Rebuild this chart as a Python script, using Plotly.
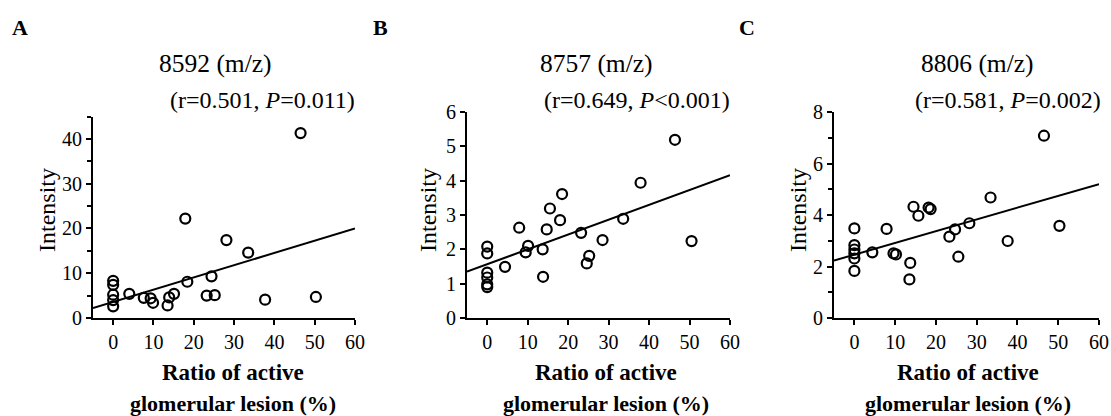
import plotly.graph_objects as go

W, H = 1111, 416
FONT = "Liberation Serif"

# ---- data ----
a_x = [0, 0, 0, 0, 0, 4.0, 7.6, 9.3, 9.9, 13.5, 13.9, 15.1, 17.9, 18.4, 23.2, 24.4, 25.2, 28.1, 33.5, 37.7, 46.5, 50.3]
a_y = [8.3, 7.4, 5.2, 4.0, 2.6, 5.4, 4.5, 4.4, 3.4, 2.8, 4.6, 5.4, 22.2, 8.1, 5.0, 9.3, 5.1, 17.4, 14.6, 4.1, 41.3, 4.7]

b_x = [0, 0, 0, 0, 0, 0, 4.4, 7.9, 9.5, 10.1, 13.7, 13.8, 14.7, 15.5, 18.0, 18.5, 23.2, 24.6, 25.2, 28.5, 33.6, 37.9, 46.4, 50.5]
b_y = [2.08, 1.88, 1.32, 1.18, 0.98, 0.90, 1.49, 2.63, 1.91, 2.10, 2.00, 1.20, 2.58, 3.19, 2.85, 3.61, 2.48, 1.59, 1.81, 2.27, 2.89, 3.94, 5.19, 2.24]

c_x = [0, 0, 0, 0, 0, 0, 4.4, 7.9, 9.6, 10.2, 13.7, 13.5, 14.5, 15.7, 18.2, 18.7, 23.3, 24.7, 25.5, 28.2, 33.4, 37.6, 46.5, 50.3]
c_y = [3.48, 2.83, 2.66, 2.51, 2.31, 1.83, 2.55, 3.46, 2.51, 2.47, 2.14, 1.50, 4.32, 3.97, 4.29, 4.23, 3.16, 3.44, 2.38, 3.68, 4.68, 2.99, 7.08, 3.58]

# regression lines (endpoints at x=-5 and x=60)
fit_x = [-5, 60]
a_fit = [2.24, 20.0]
b_fit = [1.35, 4.16]
c_fit = [2.23, 5.20]

titles = ["8592 (m/z)", "8757 (m/z)", "8806 (m/z)"]
stats = ["(r=0.501, <i>P</i>=0.011)", "(r=0.649, <i>P</i>&lt;0.001)", "(r=0.581, <i>P</i>=0.002)"]
letters = ["A", "B", "C"]
x_ticks = [0, 10, 20, 30, 40, 50, 60]
y_ranges = [[0, 45], [0, 6], [0, 8]]
y_dticks = [10, 1, 2]
y_minor = [5, None, 1]

panels = [(a_x, a_y, a_fit), (b_x, b_y, b_fit), (c_x, c_y, c_fit)]

# ---- layout geometry (pixels) ----
x_dom_px = [(93, 355), (467, 730), (834, 1099)]
y_bot_px = 318
y_top_px = [116.5, 112, 112]
title_cx = [215, 596, 977]
stat_right = [357, 732, 1103]
letter_cx = [20, 380, 747]
xt_cx = [233, 606, 968]
yt_cx = [47, 428, 798]

fig = go.Figure()

def px(x):
    return x / W

def py(y):
    return 1 - y / H

annotations = []
for i, (xs, ys, fit) in enumerate(panels):
    n = "" if i == 0 else str(i + 1)
    fig.add_trace(go.Scatter(
        x=xs, y=ys, mode="markers", xaxis="x" + n, yaxis="y" + n,
        marker=dict(symbol="circle-open", size=10, color="black", line=dict(width=2.2, color="black")),
        showlegend=False, cliponaxis=False))
    fig.add_trace(go.Scatter(
        x=fit_x, y=fit, mode="lines", xaxis="x" + n, yaxis="y" + n,
        line=dict(color="black", width=2), showlegend=False))

    xd = [px(x_dom_px[i][0]), px(x_dom_px[i][1])]
    yd = [py(y_bot_px), py(y_top_px[i])]
    common = dict(showgrid=False, zeroline=False, showline=True, linewidth=2, linecolor="black",
                  ticks="outside", ticklen=5, tickwidth=2, tickcolor="black", automargin=False,
                  tickfont=dict(family=FONT, size=20, color="black"))
    fig.layout["xaxis" + n] = dict(domain=xd, range=[-5, 60], tickvals=x_ticks,
                                   anchor="y" + n, **common)
    yax = dict(domain=yd, range=y_ranges[i], dtick=y_dticks[i], tick0=0,
               anchor="x" + n, **common)
    if y_minor[i]:
        yax["minor"] = dict(dtick=y_minor[i], tick0=0, ticks="outside", ticklen=4, tickwidth=2,
                            tickcolor="black", showgrid=False)
    fig.layout["yaxis" + n] = yax

    annotations += [
        dict(text="<b>" + letters[i] + "</b>", x=px(letter_cx[i]), y=py(28), xanchor="center", yanchor="middle",
             font=dict(family=FONT, size=22, color="black")),
        dict(text=titles[i], x=px(title_cx[i]), y=py(63), xanchor="center", yanchor="middle",
             font=dict(family=FONT, size=25.5, color="black")),
        dict(text=stats[i], x=px(stat_right[i]), y=py(100), xanchor="right", yanchor="middle",
             font=dict(family=FONT, size=24, color="black")),
        dict(text="<b>Ratio of active</b>", x=px(xt_cx[i]), y=py(372), xanchor="center", yanchor="middle",
             font=dict(family=FONT, size=23, color="black")),
        dict(text="<b>glomerular lesion (%)</b>", x=px(xt_cx[i]), y=py(403), xanchor="center", yanchor="middle",
             font=dict(family=FONT, size=22, color="black")),
        dict(text="Intensity", x=px(yt_cx[i]), y=py(210), xanchor="center", yanchor="middle", textangle=-90,
             font=dict(family=FONT, size=24, color="black")),
    ]

for a in annotations:
    a.update(xref="paper", yref="paper", showarrow=False)

fig.update_layout(template="none", width=W, height=H, margin=dict(l=0, r=0, t=0, b=0, pad=0),
                  paper_bgcolor="white", plot_bgcolor="white", annotations=annotations,
                  font=dict(family=FONT, color="black"))

# remove the browser's default page margin so the figure sits at the window's corner
fig.write_html("out.html", config={"displayModeBar": False},
               post_script="document.body.style.margin='0';document.body.style.overflow='hidden';")
